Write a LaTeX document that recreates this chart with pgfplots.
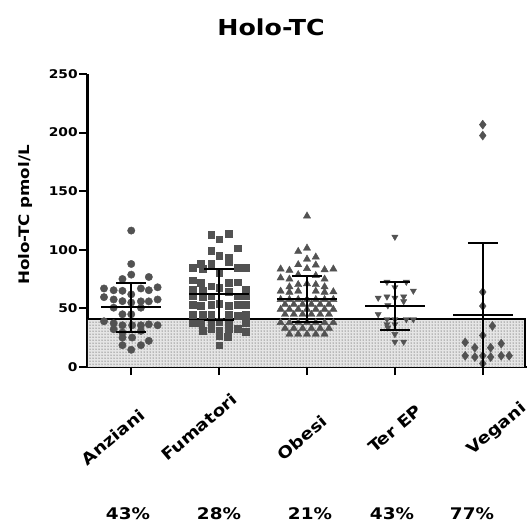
\documentclass[border=0pt]{standalone}
\usepackage{fontspec}
\setmainfont{DejaVu Sans}[FakeStretch=1.15]
\usepackage{pgfplots}
\pgfplotsset{compat=1.18}
\usetikzlibrary{patterns}
\definecolor{dotgray}{HTML}{525252}

\begin{document}
\begin{tikzpicture}[x=1pt,y=1pt]
\begin{axis}[
  at={(0,0)}, anchor=south west,
  scale only axis, width=439.4pt, height=293pt,
  xmin=-0.5, xmax=4.5, ymin=0, ymax=250,
  axis x line*=bottom, axis y line*=left,
  axis line style={line width=2.6pt},
  xtick={0,1,2,3,4}, xticklabels={},
  ytick={0,50,100,150,200,250},
  tick align=outside, major tick length=8pt,
  tick style={line width=2pt, black},
  yticklabel style={font=\fontsize{12}{13}\selectfont\bfseries, inner sep=1.5pt},
  /pgf/number format/assume math mode=true,
  clip mode=individual,
]
% reference range (shaded)
\addplot[draw=black, line width=1.3pt, fill=black!10,
  postaction={pattern=dots, pattern color=black!85}, mark=none]
  coordinates {(-0.5,0) (-0.5,41) (4.48,41) (4.48,0)};

% Anziani
\addplot[only marks, mark=*, mark size=3.7pt, mark options={fill=dotgray, draw=dotgray}] coordinates {
(0,116.4) (0,87.9) (0,78.8) (-0.10,75.1) (0.20,76.8) (-0.31,67) (-0.20,65.5) (-0.10,65)
(0.11,67) (0.20,65.5) (0.30,68) (0,62) (-0.31,59.6) (-0.20,57.6) (-0.10,56.2) (0.11,56)
(0.20,56) (0.30,57.6) (0,55) (-0.20,50.6) (0.11,50.6) (-0.10,45) (0,45) (-0.31,39)
(-0.20,37.3) (-0.10,35.6) (0.01,35.6) (0.11,35.6) (0.20,36.4) (0.30,35.6) (-0.20,32.2)
(-0.10,29.4) (0.11,30.8) (-0.10,25.1) (0.01,25.1) (0.20,22.3) (-0.10,18.6) (0.11,18.6) (0,14.7)
};
% Fumatori
\addplot[only marks, mark=square*, mark size=3.4pt, mark options={fill=dotgray, draw=dotgray}] coordinates {
(0.91,112.7) (1,109) (1.11,114) (1.21,101.4) (0.91,99.4) (1,94.9) (1.11,93) (0.79,88)
(0.91,88) (1.11,90) (0.70,84.5) (0.81,84) (1.21,84.5) (1.30,85) (1,80.2) (0.70,74)
(0.79,71.8) (0.91,68.9) (1.11,71.8) (1.21,72.3) (0.70,66.1) (0.81,65) (1,68) (1.11,64)
(1.30,66) (0.70,60.4) (0.81,59.5) (0.91,60.4) (1.21,60.4) (1.30,60.4) (0.70,53.4) (0.79,52.5)
(0.91,53.4) (1,54) (1.11,52.5) (1.21,53.4) (1.30,53) (0.70,44.9) (0.81,44.9) (0.91,44.9)
(1.11,44.9) (1.21,44) (1.30,44.9) (0.70,37.3) (0.79,37.3) (0.91,38) (1,38.7) (1.11,37.3)
(1.30,37.6) (0.91,32.2) (1,31.4) (1.11,32.8) (1,26.6) (1.10,26) (1,18.6) (0.81,31) (1.21,33) (1.30,30)
};
% Obesi
\addplot[only marks, mark=triangle*, mark size=4.2pt, mark options={fill=dotgray, draw=dotgray}] coordinates {
(2,128.8) (1.90,98.6) (2,101.4) (2,92) (2.10,93.8) (2.10,87) (1.90,87.3) (1.70,83.6)
(1.80,82.5) (2,84) (2.20,83) (2.30,83.6) (1.70,76) (1.80,75) (1.90,78.8) (2.10,78)
(2.20,75) (1.90,70.3) (2,71) (2.10,70.3) (1.80,68.4) (2.20,68.4) (1.70,64.7) (1.80,63.8)
(1.90,64.7) (2.10,64.7) (2.20,63.8) (2.30,64.2)
(1.70,57.6) (1.80,57.6) (1.90,57.6) (2,57.6) (2.10,57.6) (2.20,57.6) (2.30,57.6)
(1.75,53.4) (1.85,53.4) (1.95,53.4) (2.05,53.4) (2.15,53.4) (2.25,53.4)
(1.70,49.2) (1.80,49.2) (1.90,49.2) (2,49.2) (2.10,49.2) (2.20,49.2) (2.30,49.2)
(1.75,44.9) (1.85,44.9) (1.95,44.9) (2.05,44.9) (2.15,44.9) (2.25,44.9)
(1.70,37.9) (1.80,37.9) (1.90,37.9) (2,37.9) (2.10,37.9) (2.20,37.9) (2.30,37.9)
(1.75,33) (1.85,33) (1.95,33) (2.05,33) (2.15,33) (2.25,33)
(1.80,28) (1.90,28) (2,28) (2.10,28) (2.20,28)
};
% Ter EP
\addplot[only marks, mark=triangle*, mark size=3.6pt, mark options={fill=dotgray, draw=dotgray, rotate=180}] coordinates {
(3,111) (2.91,72.6) (3.13,72.6) (3,68) (3.21,65) (2.81,59) (2.91,60) (3,59) (3.10,60)
(3.10,56) (2.92,52.5) (2.81,45) (2.91,40.7) (3,40.7) (3.13,40.7) (3.21,40.7) (2.91,36.4)
(3,36.4) (2.92,33.6) (3,28) (3,21.5) (3.10,21.5)
};
% Vegani
\addplot[only marks, mark=diamond*, mark size=4.5pt, mark options={fill=dotgray, draw=dotgray}] coordinates {
(4,206.8) (4,197.5) (4,64) (4,52) (4.11,35) (4,27) (3.80,21) (4.21,20) (3.91,16.5)
(4.09,16.5) (3.80,9.6) (3.91,8.5) (4,9.6) (4.09,8.5) (4.21,9.6) (4.30,9.6) (4,3)
};

% mean +- SD
\addplot[draw=none, mark=none, error bars/.cd, y dir=both, y explicit,
  error bar style={line width=2pt, black},
  error mark options={black, line width=2pt, mark size=15pt, rotate=90}]
  coordinates {(0,51) +- (0,21) (1,62) +- (0,22) (2,58) +- (0,20) (3,52) +- (0,20.5) (4,44) +- (0,62)};
\addplot[draw=none, mark=none, error bars/.cd, x dir=both, x explicit, error mark=none,
  error bar style={line width=2pt, black}]
  coordinates {(0,51) +- (0.34,0) (1,62) +- (0.34,0) (2,58) +- (0.34,0) (3,52) +- (0.34,0) (4,44) +- (0.34,0)};
\end{axis}

\node[font=\fontsize{22}{24}\selectfont\bfseries] at (183.7,340) {Holo-TC};
\node[rotate=90, font=\fontsize{14.5}{16}\selectfont\bfseries] at (-61.8,152) {Holo-TC pmol/L};

\begin{scope}[every node/.style={rotate=40, inner sep=0pt, font=\fontsize{16}{18}\selectfont\bfseries}]
\node at (25.7,-70) {Anziani};
\node at (111.7,-60) {Fumatori};
\node at (214.7,-71) {Obesi};
\node at (307.7,-62) {Ter EP};
\node at (409.7,-62) {Vegani};
\end{scope}

\begin{scope}[every node/.style={font=\fontsize{16}{18}\selectfont\bfseries}]
\node at (40.7,-147) {43\%};
\node at (131.7,-147) {28\%};
\node at (222.7,-147) {21\%};
\node at (304.7,-147) {43\%};
\node at (384.7,-147) {77\%};
\end{scope}

\pgfresetboundingbox
\path[use as bounding box] (-87.3,-156) rectangle (442.7,367);
\end{tikzpicture}
\end{document}
